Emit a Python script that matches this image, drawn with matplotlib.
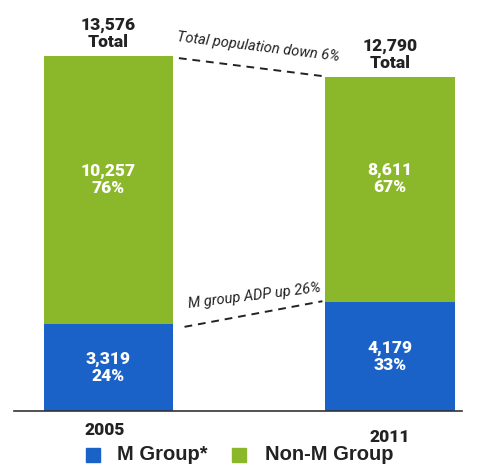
import matplotlib.pyplot as plt

years = ['2005', '2011']
m_group = [3319, 4179]
non_m = [10257, 8611]
m_pct = ['24%', '33%']
non_m_pct = ['76%', '67%']
totals = ['13,576', '12,790']

BLUE = '#1a62c8'
GREEN = '#8bb82a'
FONT = ['Roboto', 'DejaVu Sans']

fig = plt.figure(figsize=(4.82, 4.70), dpi=100)
# axes: bottom at baseline, full width of the baseline rule
ax = fig.add_axes([14 / 482, 59 / 470, 448 / 482, 411 / 470])

x = [0, 1]
w = 0.46
tot = [a + b for a, b in zip(m_group, non_m)]
ax.bar(x, m_group, width=w, color=BLUE)
ax.bar(x, non_m, width=w, bottom=m_group, color=GREEN)

ax.set_xlim(-0.336, 1.256)
ax.set_ylim(0, 15720)
for s in ['top', 'right', 'left']:
    ax.spines[s].set_visible(False)
ax.spines['bottom'].set_color('#333333')
ax.spines['bottom'].set_linewidth(1.2)
ax.set_yticks([])
ax.set_xticks([])

lab = dict(fontsize=12.5, fontweight='heavy', family=FONT, linespacing=1.1)
for i in range(2):
    ax.text(x[i], m_group[i] / 2, f'{m_group[i]:,}\n{m_pct[i]}', ha='center', va='center',
            color='white', **lab)
    ax.text(x[i], m_group[i] + non_m[i] / 2 + 400, f'{non_m[i]:,}\n{non_m_pct[i]}', ha='center',
            va='center', color='white', **lab)
    ax.text(x[i], tot[i] + 220, f'{totals[i]}\nTotal', ha='center', va='bottom',
            color='#222222', **lab)

# dashed connectors
ax.plot([x[0] + w / 2 + 0.02, x[1] - w / 2 - 0.01], [tot[0] - 80, tot[1] + 20],
        ls=(0, (4, 3)), color='#222222', lw=1.4)
ax.plot([x[0] + w / 2 + 0.04, x[1] - w / 2 - 0.01], [m_group[0] - 100, m_group[1] + 20],
        ls=(0, (4, 3)), color='#222222', lw=1.4)
ax.text(0.5 + 0.03, (tot[0] + tot[1]) / 2 + 80, 'Total population down 6%', ha='center', va='bottom',
        rotation=-7, style='italic', fontsize=10.5, family=FONT, color='#222222')
ax.text(0.5 + 0.02, (m_group[0] + m_group[1]) / 2 + 80, 'M group ADP up 26%', ha='center', va='bottom',
        rotation=7, style='italic', fontsize=10.5, family=FONT, color='#222222')

# year labels
fig.text(105 / 482, 1 - 430 / 470, years[0], ha='center', va='center', fontsize=12.5,
         fontweight='heavy', family=FONT, color='#222222')
fig.text(390 / 482, 1 - 437 / 470, years[1], ha='center', va='center', fontsize=12.5,
         fontweight='heavy', family=FONT, color='#222222')

# legend
fig.patches.append(plt.Rectangle((86 / 482, 1 - 462 / 470), 14 / 482, 14 / 470,
                                 transform=fig.transFigure, color=BLUE))
fig.text(117 / 482, 1 - 455 / 470, 'M Group*', ha='left', va='center', fontsize=14.5,
         fontweight='bold', family=['Liberation Sans', 'DejaVu Sans'], color='#222222')
fig.patches.append(plt.Rectangle((232 / 482, 1 - 462 / 470), 14 / 482, 14 / 470,
                                 transform=fig.transFigure, color=GREEN))
fig.text(265 / 482, 1 - 455 / 470, 'Non-M Group', ha='left', va='center', fontsize=14.5,
         fontweight='bold', family=['Liberation Sans', 'DejaVu Sans'], color='#222222')

fig.savefig('out.png', dpi=100)
